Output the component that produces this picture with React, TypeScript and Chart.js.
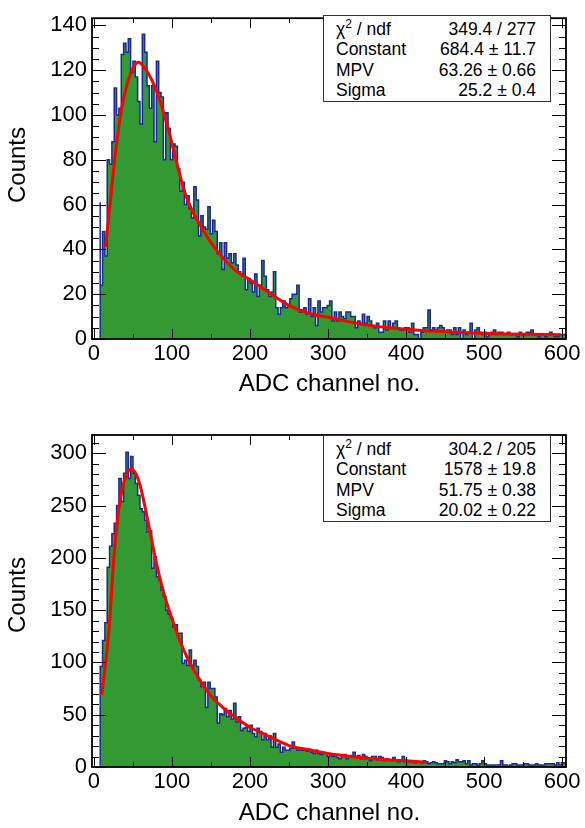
import React, { useEffect, useRef } from "react";
import { Chart, registerables } from "chart.js";

Chart.register(...registerables);

// ---------------- data ----------------
const BIN_START = 8;
const BIN_WIDTH = 3;

const TOP_COUNTS = [
  61, 24, 48, 37, 80, 78, 88, 112, 100, 103,
  127, 132, 128, 134, 119, 124, 117, 106, 96, 136,
  128, 113, 103, 113, 88, 124, 110, 108, 80, 101,
  94, 80, 87, 86, 76, 66, 70, 60, 64, 58,
  54, 68, 62, 46, 55, 50, 49, 59, 47, 53,
  48, 38, 43, 31, 43, 36, 38, 34, 38, 33,
  30, 29, 36, 22, 27, 25, 21, 29, 19, 24,
  35, 28, 22, 19, 21, 30, 14, 11, 14, 17,
  14, 15, 18, 20, 20, 24, 12, 13, 14, 11,
  18, 10, 14, 6, 17, 12, 14, 14, 15, 17,
  8, 12, 8, 12, 10, 9, 12, 12, 10, 10,
  5, 8, 7, 11, 7, 10, 8, 6, 5, 7,
  3, 3, 8, 4, 8, 5, 7, 8, 5, 4,
  4, 5, 5, 3, 7, 2, 2, 0, 3, 5,
  5, 13, 4, 5, 4, 5, 6, 5, 3, 4,
  4, 2, 5, 2, 5, 0, 4, 2, 3, 7,
  0, 4, 5, 3, 2, 3, 1, 2, 3, 4,
  2, 3, 3, 2, 2, 3, 2, 2, 2, 1,
  3, 2, 2, 3, 3, 4, 2, 2, 1, 2,
  2, 1, 2, 3, 2, 1, 1, 2, 2,
];

const BOTTOM_COUNTS = [
  52, 96, 121, 138, 191, 211, 223, 233, 250, 276,
  254, 281, 301, 276, 297, 281, 271, 260, 247, 244,
  236, 225, 226, 190, 201, 182, 179, 169, 163, 150,
  146, 142, 134, 136, 128, 128, 99, 102, 97, 112,
  97, 102, 96, 83, 77, 81, 57, 81, 75, 75,
  67, 42, 51, 50, 56, 48, 54, 46, 61, 43,
  48, 35, 37, 38, 34, 40, 32, 29, 37, 34,
  26, 32, 26, 30, 19, 32, 19, 22, 14, 19,
  16, 16, 18, 24, 18, 16, 18, 16, 16, 15,
  17, 14, 13, 16, 13, 12, 13, 13, 10, 12,
  10, 11, 9, 8, 10, 12, 8, 10, 11, 14,
  10, 11, 8, 12, 10, 8, 6, 10, 10, 7,
  10, 9, 6, 8, 7, 6, 9, 7, 5, 6,
  10, 5, 6, 5, 6, 4, 5, 5, 4, 6,
  5, 3, 4, 5, 4, 3, 3, 3, 6, 5,
  3, 5, 4, 7, 5, 5, 6, 3, 6, 2,
  3, 3, 2, 3, 6, 3, 2, 2, 2, 2,
  2, 2, 6, 2, 2, 1, 2, 3, 3, 2,
  2, 2, 3, 3, 2, 2, 2, 3, 2, 2,
  2, 3, 3, 3, 3, 2, 4, 2, 4,
];

const TOP_FIT_X = [15, 20, 25, 30, 35, 42, 50, 57, 65, 75, 85, 95, 106, 115, 125, 136, 150, 161, 180, 200, 225, 250, 275, 300, 350, 400, 450, 500, 550, 598];
const TOP_FIT_Y = [41, 58, 75, 90, 102, 113, 121, 123.5, 121, 115, 106, 94, 79, 67, 58, 51, 43, 38, 31, 26.5, 20.5, 15, 11.5, 9.7, 6.2, 4.4, 3.2, 2.5, 2.1, 1.9];

const BOTTOM_FIT_X = [10, 15, 20, 25, 30, 36, 42, 48, 54, 60, 70, 80, 90, 100, 110, 120, 135, 150, 165, 180, 200, 225, 250, 275, 300, 325, 350, 375, 400, 426];
const BOTTOM_FIT_Y = [69, 100, 138, 195, 235, 265, 280, 285, 280, 267, 232, 195, 165, 142, 121, 104, 84, 68, 57, 48, 38, 29, 20.5, 16.5, 13, 10.5, 8.3, 7, 5.9, 4.4];

const X_TICKS = [0, 100, 200, 300, 400, 500, 600];
const X_MINOR_TICKS = [0, 50, 100, 150, 200, 250, 300, 350, 400, 450, 500, 550, 600];
const TOP_Y_TICKS = [0, 20, 40, 60, 80, 100, 120, 140];
const TOP_Y_MINOR_STEP = 5;
const BOTTOM_Y_TICKS = [0, 50, 100, 150, 200, 250, 300];
const BOTTOM_Y_MINOR_STEP = 10;

const TOP_STATS_LABELS = ["χ2 / ndf", "Constant", "MPV", "Sigma"];
const TOP_STATS_VALUES = ["349.4 / 277", "684.4 ± 11.7", "63.26 ± 0.66", "25.2 ± 0.4"];
const BOTTOM_STATS_LABELS = ["χ2 / ndf", "Constant", "MPV", "Sigma"];
const BOTTOM_STATS_VALUES = ["304.2 / 205", "1578 ± 19.8", "51.75 ± 0.38", "20.02 ± 0.22"];

const X_TITLE = "ADC channel no.";
const Y_TITLE = "Counts";

// ---------------- rendering ----------------
const FONT = "'Liberation Sans', Arial, Helvetica, sans-serif";

function histPoints(counts: number[]) {
  const pts: { x: number; y: number }[] = [{ x: BIN_START, y: 0 }];
  counts.forEach((c, i) => pts.push({ x: BIN_START + i * BIN_WIDTH, y: c }));
  const end = BIN_START + counts.length * BIN_WIDTH;
  pts.push({ x: end, y: counts[counts.length - 1] });
  pts.push({ x: end, y: 0 });
  return pts;
}

function framePlugin(yMax: number, yMinorStep: number, yMajor: number[]) {
  return {
    id: "rootFrame",
    afterDraw(chart: any) {
      const { ctx, chartArea: a, scales } = chart;
      const xs = scales.x;
      const ys = scales.y;
      ctx.save();
      ctx.strokeStyle = "#000";
      ctx.lineWidth = 1;
      ctx.beginPath();
      X_MINOR_TICKS.forEach((v) => {
        const px = Math.round(xs.getPixelForValue(v)) + 0.5;
        const len = v % 100 === 0 ? 10 : 5;
        ctx.moveTo(px, a.bottom);
        ctx.lineTo(px, a.bottom - len);
        ctx.moveTo(px, a.top);
        ctx.lineTo(px, a.top + len);
      });
      const majorStep = yMajor[1] - yMajor[0];
      for (let v = 0; v <= yMax; v += yMinorStep) {
        const py = Math.round(ys.getPixelForValue(v)) + 0.5;
        const len = v % majorStep === 0 ? 14 : 7;
        ctx.moveTo(a.left, py);
        ctx.lineTo(a.left + len, py);
        ctx.moveTo(a.right, py);
        ctx.lineTo(a.right - len, py);
      }
      ctx.stroke();
      ctx.lineWidth = 1.8;
      ctx.strokeRect(a.left, a.top, a.right - a.left, a.bottom - a.top);
      ctx.restore();
    },
  };
}

type PanelProps = {
  counts: number[];
  fitX: number[];
  fitY: number[];
  yMax: number;
  yTicks: number[];
  yMinorStep: number;
  padTop: number;
  xAxisHeight: number;
  height: number;
};

function Panel(p: PanelProps) {
  const ref = useRef<HTMLCanvasElement | null>(null);
  useEffect(() => {
    if (!ref.current) return;
    const fit = p.fitX.map((x, i) => ({ x, y: p.fitY[i] }));
    const chart = new Chart(ref.current, {
      type: "line",
      data: {
        datasets: [
          {
            data: histPoints(p.counts),
            stepped: "after",
            borderColor: "#1a2a96",
            borderWidth: 1.5,
            backgroundColor: "#339933",
            fill: "origin",
            pointRadius: 0,
            order: 2,
          },
          {
            data: fit,
            borderColor: "#ff0000",
            borderWidth: 3,
            fill: false,
            pointRadius: 0,
            cubicInterpolationMode: "monotone",
            order: 1,
          },
        ],
      } as any,
      options: {
        animation: false,
        responsive: false,
        devicePixelRatio: 1,
        layout: { padding: { top: p.padTop, right: 19, bottom: 0, left: 0 } },
        plugins: { legend: { display: false }, tooltip: { enabled: false } },
        scales: {
          x: {
            type: "linear",
            min: -2.5,
            max: 605,
            grid: { display: false, drawTicks: false },
            border: { display: false },
            afterBuildTicks: (s: any) => {
              s.ticks = X_TICKS.map((v) => ({ value: v }));
            },
            afterFit: (s: any) => {
              s.height = p.xAxisHeight;
            },
            ticks: {
              color: "#000",
              font: { family: FONT, size: 22 },
              padding: 2,
              maxRotation: 0,
              autoSkip: false,
            },
          },
          y: {
            type: "linear",
            min: 0,
            max: p.yMax,
            grid: { display: false, drawTicks: false },
            border: { display: false },
            afterBuildTicks: (s: any) => {
              s.ticks = p.yTicks.map((v) => ({ value: v }));
            },
            afterFit: (s: any) => {
              s.width = 92;
            },
            ticks: {
              color: "#000",
              font: { family: FONT, size: 22 },
              padding: 5,
              autoSkip: false,
            },
          },
        },
      } as any,
      plugins: [framePlugin(p.yMax, p.yMinorStep, p.yTicks)],
    });
    return () => chart.destroy();
  }, []);
  return <canvas ref={ref} width={585} height={p.height} style={{ display: "block" }} />;
}

function StatsBox({ top, labels, values }: { top: number; labels: string[]; values: string[] }) {
  return (
    <div
      style={{
        position: "absolute",
        left: 323,
        top,
        width: 228,
        height: 87,
        boxSizing: "border-box",
        border: "1px solid #333",
        background: "#fff",
        fontFamily: FONT,
        fontSize: 17.5,
        color: "#000",
        padding: "3px 14px 0 12px",
      }}
    >
      {labels.map((l, i) => (
        <div
          key={i}
          style={{ display: "flex", justifyContent: "space-between", height: 20.4, lineHeight: "20.4px", whiteSpace: "nowrap" }}
        >
          <span>
            {l.startsWith("χ2") ? (
              <>
                χ<sup style={{ fontSize: 12, verticalAlign: "7px", lineHeight: 0 }}>2</sup>
                {l.slice(2)}
              </>
            ) : (
              l
            )}
          </span>
          <span>{values[i]}</span>
        </div>
      ))}
    </div>
  );
}

const titleStyle: React.CSSProperties = {
  position: "absolute",
  width: 200,
  height: 28,
  lineHeight: "28px",
  textAlign: "center",
  fontFamily: FONT,
  fontSize: 24,
  color: "#000",
  whiteSpace: "nowrap",
};

function YTitle({ cy }: { cy: number }) {
  return (
    <div style={{ ...titleStyle, left: 16.7 - 100, top: cy - 14, transform: "rotate(-90deg)" }}>{Y_TITLE}</div>
  );
}

function XTitle({ top }: { top: number }) {
  return <div style={{ ...titleStyle, left: 329.5 - 100, top }}>{X_TITLE}</div>;
}

export default function App() {
  return (
    <div style={{ position: "absolute", left: 0, top: 0, width: 585, height: 828, background: "#fff" }}>
      <div style={{ position: "absolute", left: 0, top: 0 }}>
        <Panel
          counts={TOP_COUNTS}
          fitX={TOP_FIT_X}
          fitY={TOP_FIT_Y}
          yMax={143.2}
          yTicks={TOP_Y_TICKS}
          yMinorStep={TOP_Y_MINOR_STEP}
          padTop={6}
          xAxisHeight={75}
          height={414}
        />
      </div>
      <div style={{ position: "absolute", left: 0, top: 414 }}>
        <Panel
          counts={BOTTOM_COUNTS}
          fitX={BOTTOM_FIT_X}
          fitY={BOTTOM_FIT_Y}
          yMax={317.5}
          yTicks={BOTTOM_Y_TICKS}
          yMinorStep={BOTTOM_Y_MINOR_STEP}
          padTop={21}
          xAxisHeight={61}
          height={414}
        />
      </div>
      <YTitle cy={165} />
      <YTitle cy={594.5} />
      <XTitle top={368.8} />
      <XTitle top={798} />
      <StatsBox top={15} labels={TOP_STATS_LABELS} values={TOP_STATS_VALUES} />
      <StatsBox top={435} labels={BOTTOM_STATS_LABELS} values={BOTTOM_STATS_VALUES} />
    </div>
  );
}
